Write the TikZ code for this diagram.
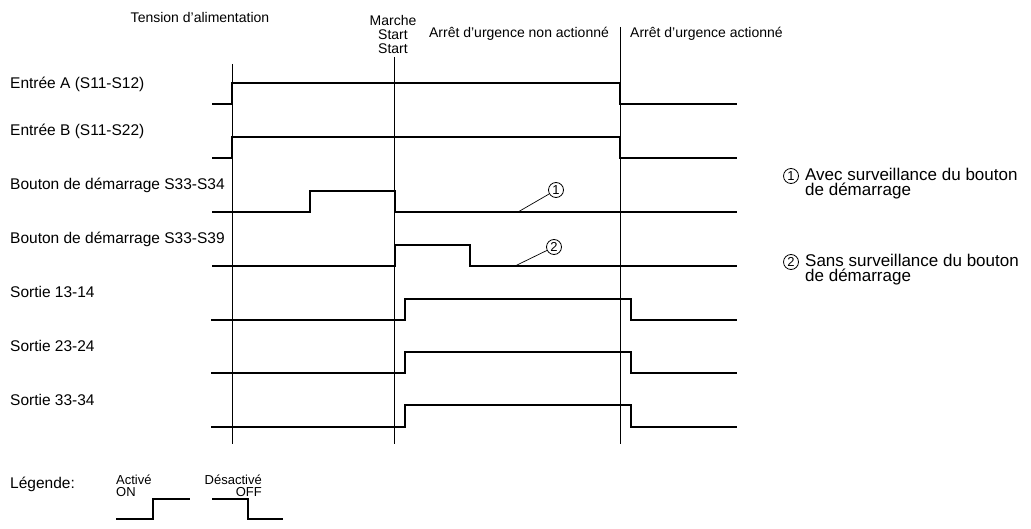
\documentclass[tikz,border=0pt]{standalone}
\usepackage{fontspec}
\setmainfont{Liberation Sans}
\begin{document}
\begin{tikzpicture}[x=1pt,y=-1pt,
  sig/.style={line width=2.6pt, line join=miter},
  guide/.style={line width=0.9pt},
  lead/.style={line width=0.7pt},
  lab/.style={anchor=west, inner sep=0pt, font=\fontsize{15.5}{18}\selectfont},
  rlab/.style={anchor=west, inner sep=0pt, align=left, font=\fontsize{17}{15}\selectfont},
  small/.style={inner sep=0pt, font=\fontsize{13}{11.5}\selectfont},
  toplab/.style={inner sep=0pt, font=\fontsize{14}{14}\selectfont},
  num/.style={circle, draw, line width=0.8pt, inner sep=0pt, minimum size=15pt, font=\fontsize{13}{13}\selectfont}]
\useasboundingbox (0,0) rectangle (1031,529);

% top texts
\node[toplab] (tens) at (200,18) {Tension d'alimentation};
\node[toplab, align=center] (mst) at (393,34) {Marche\\Start\\Start};
\node[toplab] (aun) at (519,34) {Arrêt d'urgence non actionné};
\node[toplab, anchor=west] (aa) at (630,34) {Arrêt d'urgence actionné};

% guide lines
\draw[guide] (232,64) -- (232,444);
\draw[guide] (394,57) -- (394,444);
\draw[guide] (620,27) -- (620,444);

% row labels
\node[lab] (la) at (10,84) {Entrée A (S11-S12)};
\node[lab] (lb) at (10,131) {Entrée B (S11-S22)};
\node[lab] (lc) at (10,185) {Bouton de démarrage S33-S34};
\node[lab] (ld) at (10,239) {Bouton de démarrage S33-S39};
\node[lab] (le) at (10,292) {Sortie 13-14};
\node[lab] (lf) at (10,346) {Sortie 23-24};
\node[lab] (lg) at (10,400) {Sortie 33-34};

% signals
\draw[sig] (212,104) -- (232,104) -- (232,83) -- (620,83) -- (620,104) -- (737,104);
\draw[sig] (212,158) -- (232,158) -- (232,137) -- (620,137) -- (620,158) -- (737,158);
\draw[sig] (212,212) -- (310,212) -- (310,191) -- (395,191) -- (395,212) -- (737,212);
\draw[sig] (212,266) -- (395,266) -- (395,245) -- (470,245) -- (470,266) -- (737,266);
\draw[sig] (211,320) -- (405,320) -- (405,299) -- (631,299) -- (631,320) -- (737,320);
\draw[sig] (211,373) -- (405,373) -- (405,352) -- (631,352) -- (631,373) -- (737,373);
\draw[sig] (211,427) -- (405,427) -- (405,405) -- (631,405) -- (631,427) -- (737,427);

% in-plot markers
\node[num] (n1) at (556,190) {1};
\coordinate (p1) at (518,212);
\draw[lead] (p1) -- (n1);
\node[num] (n2) at (554,247) {2};
\coordinate (p2) at (515,266);
\draw[lead] (p2) -- (n2);

% right legend
\node[num] (r1) at (791,176) {1};
\node[rlab] (r1a) at (805,183.5) {Avec surveillance du bouton\\de démarrage};
\node[num] (r2) at (791,262) {2};
\node[rlab] (r2a) at (805,269.5) {Sans surveillance du bouton\\de démarrage};

% bottom legend
\node[lab] (leg) at (10,484) {Légende:};
\node[small, anchor=west, align=left] (act) at (116,486) {Activé\\ON};
\node[small, anchor=east, align=right] (des) at (262,486) {Désactivé\\OFF};
\draw[sig] (116,519) -- (153,519) -- (153,499) -- (190,499);
\draw[sig] (212,499) -- (248,499) -- (248,519) -- (283,519);
\end{tikzpicture}
\end{document}
